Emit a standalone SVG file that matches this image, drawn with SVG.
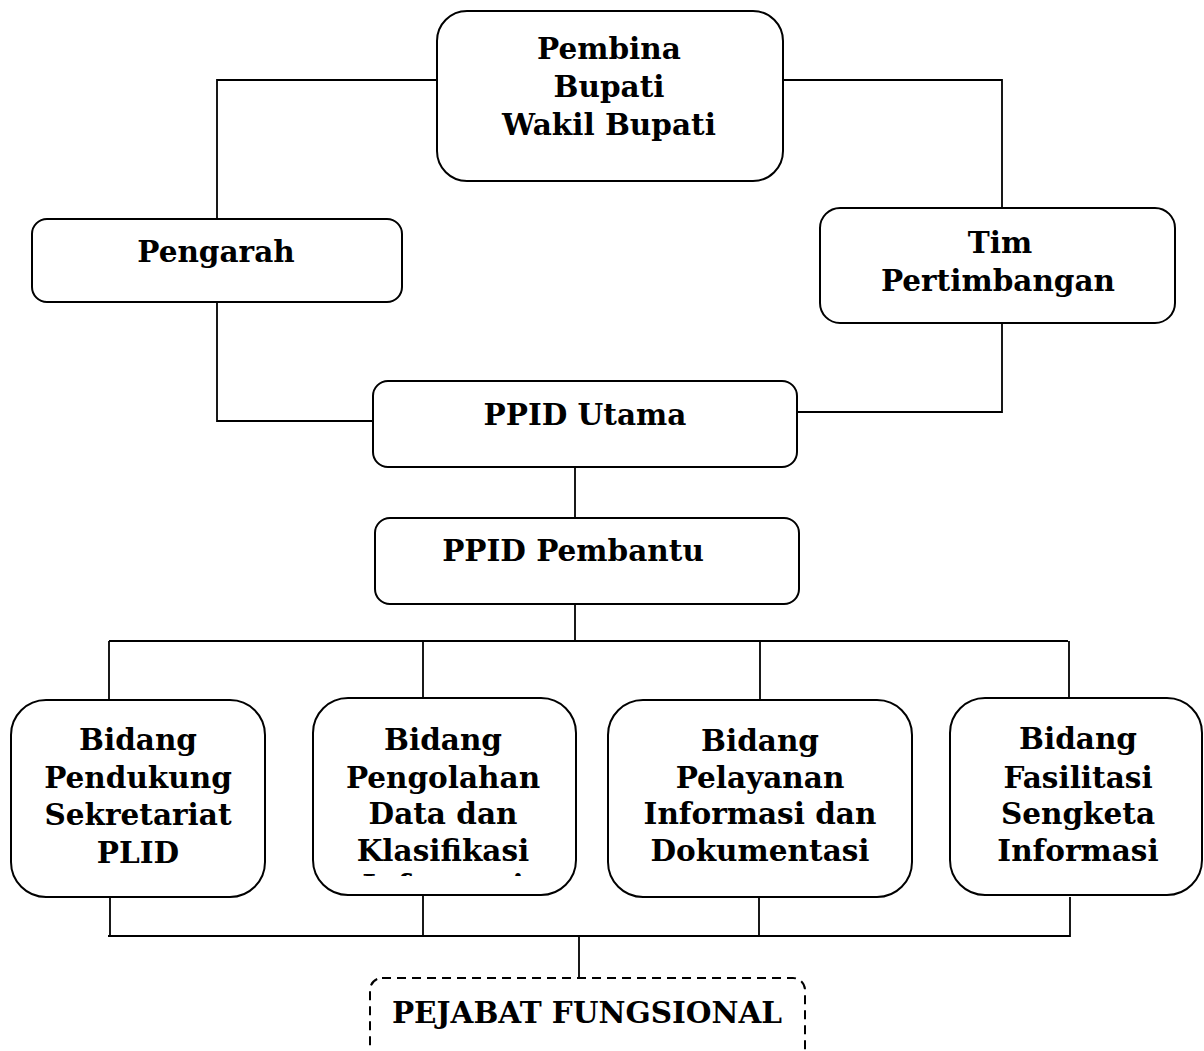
<svg xmlns="http://www.w3.org/2000/svg" width="1204" height="1051" viewBox="0 0 1204 1051">
<style>
.box{fill:#fff;stroke:#000;stroke-width:2}
.dash{fill:#fff;stroke:#000;stroke-width:2;stroke-dasharray:9 6}
.ln{fill:none;stroke:#000;stroke-width:1.8}
text{font-family:"DejaVu Serif","Liberation Serif",serif;font-weight:bold;font-size:29.5px;text-anchor:middle;fill:#000}
</style>
<defs>
<clipPath id="clipInf"><rect x="313" y="873" width="265" height="3"/></clipPath>
</defs>
<rect width="1204" height="1051" fill="#fff"/>
<g id="connectors">
<polyline class="ln" points="437,80 217,80 217,219"/>
<polyline class="ln" points="783,80 1002,80 1002,208"/>
<polyline class="ln" points="217,302 217,421 373,421"/>
<polyline class="ln" points="1002,323 1002,412 797,412"/>
<line class="ln" x1="575" y1="467" x2="575" y2="518"/>
<line class="ln" x1="575" y1="604" x2="575" y2="641"/>
<line class="ln" x1="109" y1="641" x2="1068" y2="641"/>
<line class="ln" x1="109" y1="641" x2="109" y2="700"/>
<line class="ln" x1="423" y1="641" x2="423" y2="698"/>
<line class="ln" x1="760" y1="641" x2="760" y2="700"/>
<line class="ln" x1="1069" y1="641" x2="1069" y2="698"/>
<line class="ln" x1="110" y1="897" x2="110" y2="937"/>
<line class="ln" x1="423" y1="895" x2="423" y2="937"/>
<line class="ln" x1="759" y1="897" x2="759" y2="937"/>
<line class="ln" x1="1070" y1="897" x2="1070" y2="937"/>
<line class="ln" x1="108" y1="936" x2="1070" y2="936"/>
<line class="ln" x1="579" y1="936" x2="579" y2="978"/>
</g>
<g id="pembina">
<rect class="box" x="437" y="11" width="346" height="170" rx="30"/>
<text x="609" y="59">Pembina</text>
<text x="609" y="97">Bupati</text>
<text x="609" y="135">Wakil Bupati</text>
</g>
<g id="pengarah">
<rect class="box" x="32" y="219" width="370" height="83" rx="15"/>
<text x="216" y="262">Pengarah</text>
</g>
<g id="tim-pertimbangan">
<rect class="box" x="820" y="208" width="355" height="115" rx="20"/>
<text x="1000" y="253">Tim</text>
<text x="998" y="291">Pertimbangan</text>
</g>
<g id="ppid-utama">
<rect class="box" x="373" y="381" width="424" height="86" rx="15"/>
<text x="585" y="425">PPID Utama</text>
</g>
<g id="ppid-pembantu">
<rect class="box" x="375" y="518" width="424" height="86" rx="15"/>
<text x="573" y="561">PPID Pembantu</text>
</g>
<g id="bidang-pendukung">
<rect class="box" x="11" y="700" width="254" height="197" rx="35"/>
<text x="138" y="750">Bidang</text>
<text x="138" y="788">Pendukung</text>
<text x="138" y="825">Sekretariat</text>
<text x="138" y="863">PLID</text>
</g>
<g id="bidang-pengolahan">
<rect class="box" x="313" y="698" width="263" height="197" rx="35"/>
<text x="443" y="750">Bidang</text>
<text x="443" y="788">Pengolahan</text>
<text x="443" y="824">Data dan</text>
<text x="443" y="861">Klasifikasi</text>
<text x="443" y="896" clip-path="url(#clipInf)">Informasi</text>
</g>
<g id="bidang-pelayanan">
<rect class="box" x="608" y="700" width="304" height="197" rx="35"/>
<text x="760" y="751">Bidang</text>
<text x="760" y="788">Pelayanan</text>
<text x="760" y="824">Informasi dan</text>
<text x="760" y="861">Dokumentasi</text>
</g>
<g id="bidang-fasilitasi">
<rect class="box" x="950" y="698" width="252" height="197" rx="35"/>
<text x="1078" y="749">Bidang</text>
<text x="1078" y="788">Fasilitasi</text>
<text x="1078" y="824">Sengketa</text>
<text x="1078" y="861">Informasi</text>
</g>
<g id="pejabat-fungsional">
<rect class="dash" x="370" y="978" width="435" height="100" rx="12"/>
<text x="587" y="1023">PEJABAT FUNGSIONAL</text>
</g>
</svg>
